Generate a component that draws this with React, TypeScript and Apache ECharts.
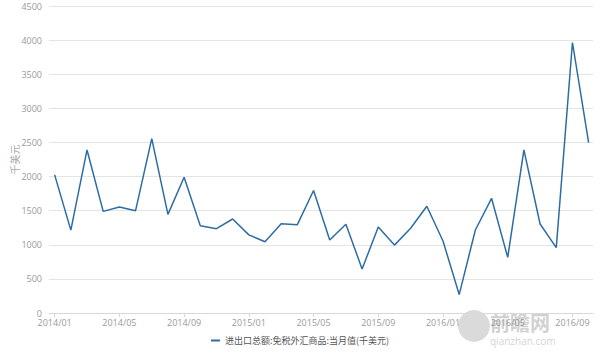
import React, { useEffect, useRef } from "react";
import * as echarts from "echarts";

const months = [
  "2014/01","2014/02","2014/03","2014/04","2014/05","2014/06","2014/07","2014/08","2014/09","2014/10","2014/11","2014/12",
  "2015/01","2015/02","2015/03","2015/04","2015/05","2015/06","2015/07","2015/08","2015/09","2015/10","2015/11","2015/12",
  "2016/01","2016/02","2016/03","2016/04","2016/05","2016/06","2016/07","2016/08","2016/09","2016/10",
];
const values = [
  2025, 1215, 2390, 1490, 1555, 1500, 2555, 1445, 1990, 1280, 1236, 1378,
  1145, 1045, 1310, 1295, 1795, 1070, 1300, 645, 1260, 995, 1242, 1565,
  1056, 270, 1217, 1681, 815, 2390, 1305, 958, 3965, 2497,
];
const labelTicks = [0, 4, 8, 12, 16, 20, 24, 28, 32];
const seriesName = "进出口总额:免税外汇商品:当月值(千美元)";
const yName = "千美元";

export default function App() {
  const ref = useRef<HTMLDivElement>(null);
  useEffect(() => {
    if (!ref.current) return;
    const chart = echarts.init(ref.current, null, { renderer: "svg" });
    chart.setOption({
      animation: false,
      backgroundColor: "#ffffff",
      grid: { left: 49, right: 7, top: 6, bottom: 47, containLabel: false, outerBoundsMode: "none" },
      legend: {
        bottom: 10,
        left: "center",
        itemWidth: 9,
        itemHeight: 2,
        itemGap: 5,
        icon: "rect",
        textStyle: { color: "#555", fontSize: 9, fontFamily: "Noto Sans CJK SC" },
        data: [seriesName],
      },
      xAxis: {
        type: "value",
        min: -0.35,
        max: 33.27,
        axisLine: { show: true, lineStyle: { color: "#d8d8d8" } },
        axisTick: { show: true, customValues: labelTicks, length: 4, lineStyle: { color: "#d8d8d8" } },
        splitLine: { show: false },
        axisLabel: {
          customValues: labelTicks,
          formatter: (v: number) => months[Math.round(v)] ?? "",
          color: "#999",
          fontSize: 9,
          margin: 5,
          fontFamily: "Open Sans",
        },
      },
      yAxis: {
        type: "value",
        min: 0,
        max: 4500,
        interval: 500,
        name: yName,
        nameLocation: "middle",
        nameGap: 30,
        nameMoveOverlap: false,
        nameRotate: 90,
        nameTextStyle: { color: "#aaa", fontSize: 10, fontFamily: "Noto Sans CJK SC" },
        axisLine: { show: false },
        axisTick: { show: false },
        splitLine: { lineStyle: { color: "#e4e4e4" } },
        axisLabel: { color: "#999", fontSize: 9, margin: 7, fontFamily: "Open Sans", formatter: (v: number) => String(v) },
      },
      series: [
        {
          name: seriesName,
          type: "line",
          data: values.map((v, i) => [i, v]),
          showSymbol: false,
          symbol: "none",
          lineStyle: { color: "#2e6da4", width: 1.5 },
          itemStyle: { color: "#2e6da4" },
        },
      ],
      graphic: [
        { type: "circle", shape: { cx: 474, cy: 326, r: 16 }, style: { fill: "rgba(150,150,150,0.35)" }, silent: true },
        { type: "text", x: 490, y: 312, style: { text: "前瞻网", fill: "rgba(150,150,150,0.45)", fontSize: 20, fontFamily: "Noto Sans CJK SC", fontWeight: "bold" }, silent: true },
        { type: "text", x: 490, y: 336, style: { text: "qianzhan.com", fill: "rgba(150,150,150,0.45)", fontSize: 10, fontFamily: "Open Sans" }, silent: true },
      ],
    });
    return () => chart.dispose();
  }, []);
  return <div ref={ref} style={{ width: 600, height: 360, position: "absolute", left: 0, top: 0 }} />;
}
